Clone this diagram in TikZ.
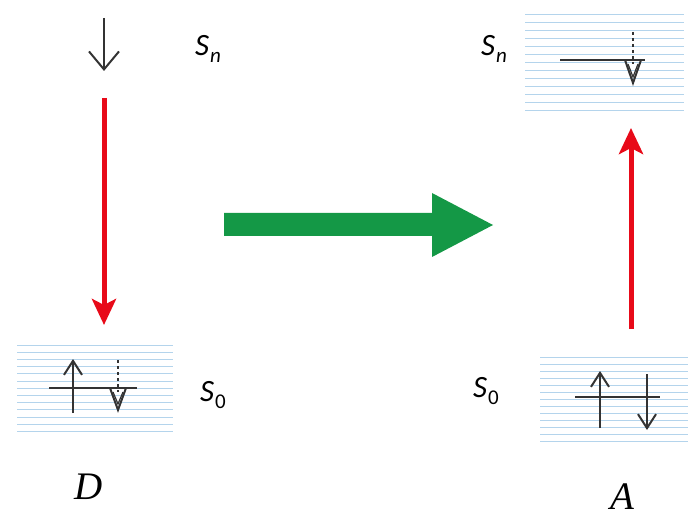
\documentclass[tikz,border=0pt]{standalone}
\usepackage{fontspec}
\setsansfont{Carlito}
\setmainfont{Liberation Serif}
\usetikzlibrary{arrows.meta}
\definecolor{stripe}{RGB}{180,212,236}
\definecolor{redarr}{RGB}{232,10,25}
\definecolor{greenarr}{RGB}{20,152,70}
\newcommand{\lev}[1]{S\kern1pt\raisebox{-7pt}{\fontsize{21}{21}\selectfont #1}}
\tikzset{
  stripeline/.style={draw=stripe, line width=1pt},
  lvl/.style={line width=2pt, draw=black!80},
  spin/.style={line width=2pt, draw=black!80, -{Straight Barb[length=14pt,width=18pt,line width=2pt]}},
  bigspin/.style={line width=2pt, draw=black!80, -{Straight Barb[length=18pt,width=30pt,line width=2pt]}},
  redarrow/.style={line width=5pt, draw=redarr, -{Stealth[length=26pt,width=24pt,inset=6pt]}},
  lbl/.style={font=\sffamily\itshape\fontsize{31}{31}\selectfont, inner sep=0pt},
  mol/.style={font=\itshape\fontsize{39}{39}\selectfont, inner sep=0pt},
  hole/.style={line width=2pt, draw=black!80, line join=miter},
  dots/.style={line width=2pt, draw=black!80, dash pattern=on 3pt off 3pt}
}
\begin{document}
\begin{tikzpicture}[x=1pt,y=-1pt]
\useasboundingbox (0,0) rectangle (688,521);
% striped boxes
\foreach \k in {0,...,12} {
  \draw[stripeline] (17,{345+\k*7.2}) -- (173,{345+\k*7.2});
  \draw[stripeline] (525,{15+\k*8}) -- (684,{15+\k*8});
  \draw[stripeline] (540,{357+\k*7}) -- (688,{357+\k*7});
}
% left top spin
\coordinate (ltop) at (104,18);
\coordinate (lbot) at (104,71);
\draw[bigspin] (ltop) -- (lbot);
\node[lbl] (snl) at (208,49) {\lev{n}};
% red down arrow
\coordinate (rd1) at (104,98);
\coordinate (rd2) at (104,325);
\draw[redarrow] (rd1) -- (rd2);
% left S0 box contents
\coordinate (ll1) at (49,388);
\coordinate (ll2) at (137,388);
\draw[lvl] (ll1) -- (ll2);
\coordinate (lu1) at (73,413);
\coordinate (lu2) at (73,359);
\draw[spin] (lu1) -- (lu2);
\coordinate (ld1) at (118,360);
\draw[dots] (ld1) -- (118,392);
\draw[hole] (110,388) -- (118,410) -- (126,388);
\draw[line width=1.2pt, black!80] (113,392) -- (118,404) -- (123,392);
\node[lbl] (s0l) at (213,395) {\lev{\upshape 0}};
\node[mol] (D) at (89,487) {D};
% green arrow
\fill[greenarr] (224,213) -- (432,213) -- (432,193) -- (493,225) -- (432,257) -- (432,236) -- (224,236) -- cycle;
% right top box contents
\node[lbl] (snr) at (494,49) {\lev{n}};
\coordinate (rl1) at (560,60);
\coordinate (rl2) at (645,60);
\draw[lvl] (rl1) -- (rl2);
\draw[dots] (633,32) -- (633,64);
\draw[hole] (625,60) -- (633,83) -- (641,60);
\draw[line width=1.2pt, black!80] (628,64) -- (633,77) -- (638,64);
% red up arrow
\coordinate (ru1) at (631,329);
\coordinate (ru2) at (631,128);
\draw[redarrow] (ru1) -- (ru2);
% right bottom box contents
\node[lbl] (s0r) at (486,391) {\lev{\upshape 0}};
\coordinate (rb1) at (575,397);
\coordinate (rb2) at (660,397);
\draw[lvl] (rb1) -- (rb2);
\coordinate (ra1) at (600,428);
\coordinate (ra2) at (600,371);
\draw[spin] (ra1) -- (ra2);
\coordinate (rc1) at (647,374);
\coordinate (rc2) at (647,430);
\draw[spin] (rc1) -- (rc2);
\node[mol] (A) at (622,497) {A};
\end{tikzpicture}
\end{document}
